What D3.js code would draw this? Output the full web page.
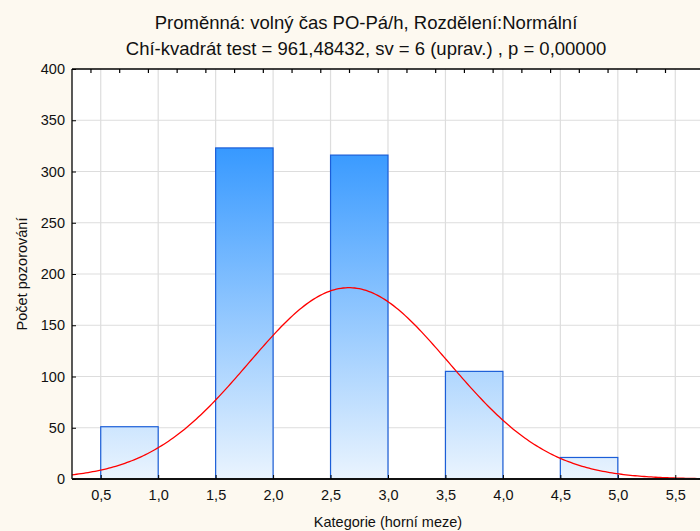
<!DOCTYPE html>
<html><head><meta charset="utf-8">
<script src="https://cdn.jsdelivr.net/npm/d3@7/dist/d3.min.js"></script>
<style>body{margin:0;background:#FDF9F0;}svg{display:block;}</style>
</head><body><svg id="c" width="700" height="531"></svg>
<script>
// Data
const binStarts = [0.5, 1.5, 2.5, 3.5, 4.5];
const binEnds   = [1.0, 2.0, 3.0, 4.0, 5.0];
const counts    = [51, 323, 316, 105, 21];
const xTicks    = [0.5, 1.0, 1.5, 2.0, 2.5, 3.0, 3.5, 4.0, 4.5, 5.0, 5.5];
const yTicks    = [0, 50, 100, 150, 200, 250, 300, 350, 400];
// fitted normal parameters
const fitMean = 2.66, fitSd = 0.872, fitN = 816, fitBinWidth = 0.5;
const title1 = "Proměnná: volný čas PO-Pá/h, Rozdělení:Normální";
const title2 = "Chí-kvadrát test = 961,48432, sv = 6 (uprav.) , p = 0,00000";

const svg = d3.select("#c");
const L = 72, R = 704, T = 69, B = 479;
const x = d3.scaleLinear().domain([0.25, 5.75]).range([L, R]);
const y = d3.scaleLinear().domain([0, 400]).range([B, T]);
const fmt = v => d3.format(".1f")(v).replace(".", ",");
const ff = "Liberation Sans, Arial, sans-serif";

svg.append("rect").attr("width",700).attr("height",531).attr("fill","#FDF9F0");
svg.append("rect").attr("x",L).attr("y",T).attr("width",R-L).attr("height",B-T).attr("fill","#fff");

const defs = svg.append("defs");
const g = defs.append("linearGradient").attr("id","bg").attr("gradientUnits","userSpaceOnUse")
  .attr("x1",0).attr("x2",0).attr("y1",y(330)).attr("y2",y(0));
g.append("stop").attr("offset","0").attr("stop-color","#3397FF");
g.append("stop").attr("offset","1").attr("stop-color","#EAF4FE");
defs.append("clipPath").attr("id","clip").append("rect").attr("x",L).attr("y",T).attr("width",R-L).attr("height",B-T);

// grid
svg.append("g").selectAll("line").data(xTicks).join("line")
  .attr("x1",d=>x(d)).attr("x2",d=>x(d)).attr("y1",T).attr("y2",B)
  .attr("stroke","#dddddd").attr("stroke-width",1.2);
svg.append("g").selectAll("line").data(yTicks.slice(1,-1)).join("line")
  .attr("x1",L).attr("x2",R).attr("y1",d=>y(d)).attr("y2",d=>y(d))
  .attr("stroke","#dddddd").attr("stroke-width",1.2);

// bars
svg.append("g").selectAll("rect").data(counts).join("rect")
  .attr("x",(d,i)=>x(binStarts[i])).attr("width",(d,i)=>x(binEnds[i])-x(binStarts[i]))
  .attr("y",d=>y(d)).attr("height",d=>y(0)-y(d))
  .attr("fill","url(#bg)").attr("stroke","#1B5ED8").attr("stroke-width",1.2);

// normal curve
const pdf = v => fitN*fitBinWidth/(fitSd*Math.sqrt(2*Math.PI))*Math.exp(-0.5*((v-fitMean)/fitSd)**2);
const xs = d3.range(0.25, 5.7501, 0.02);
svg.append("path").attr("clip-path","url(#clip)")
  .attr("d", d3.line().x(d=>x(d)).y(d=>y(pdf(d)))(xs))
  .attr("fill","none").attr("stroke","#FF0000").attr("stroke-width",1.3);

// frame
svg.append("line").attr("x1",L).attr("x2",R).attr("y1",T).attr("y2",T).attr("stroke","#000").attr("stroke-width",1.3);
svg.append("line").attr("x1",L).attr("x2",L).attr("y1",T).attr("y2",B).attr("stroke","#000").attr("stroke-width",1.3);
svg.append("line").attr("x1",L).attr("x2",R).attr("y1",B).attr("y2",B).attr("stroke","#111").attr("stroke-width",2);

// top ticks
const topTicks = d3.range(21).map(k => 0.415 + 0.25*k);
svg.append("g").selectAll("line").data(topTicks).join("line")
  .attr("x1",d=>x(d)).attr("x2",d=>x(d)).attr("y1",T).attr("y2",T+4).attr("stroke","#000").attr("stroke-width",1.2);

// axes
const xAxis = d3.axisBottom(x).tickValues(xTicks).tickFormat(fmt).tickSize(-4).tickPadding(11);
const xa = svg.append("g").attr("transform",`translate(0,${B})`).call(xAxis);
xa.select(".domain").remove();
xa.selectAll("text").attr("font-family",ff).attr("font-size",14.5).attr("fill","#111");
xa.selectAll("line").attr("stroke","#000");

const yAxis = d3.axisLeft(y).tickValues(yTicks).tickSize(-4).tickPadding(7);
const ya = svg.append("g").attr("transform",`translate(${L},0)`).call(yAxis);
ya.select(".domain").remove();
ya.selectAll("text").attr("font-family",ff).attr("font-size",14.5).attr("fill","#111");
ya.selectAll("line").attr("stroke","#000");

// titles
svg.append("text").attr("x",366).attr("y",29).attr("text-anchor","middle").attr("font-family",ff).attr("font-size",18.5).attr("fill","#111").text(title1);
svg.append("text").attr("x",366).attr("y",55).attr("text-anchor","middle").attr("font-family",ff).attr("font-size",18.5).attr("fill","#111").text(title2);
svg.append("text").attr("x",388).attr("y",527).attr("text-anchor","middle").attr("font-family",ff).attr("font-size",14.5).attr("fill","#111").text("Kategorie (horní meze)");
svg.append("text").attr("transform","translate(27,274) rotate(-90)").attr("text-anchor","middle").attr("font-family",ff).attr("font-size",14.5).attr("fill","#111").text("Počet pozorování");
</script></body></html>
